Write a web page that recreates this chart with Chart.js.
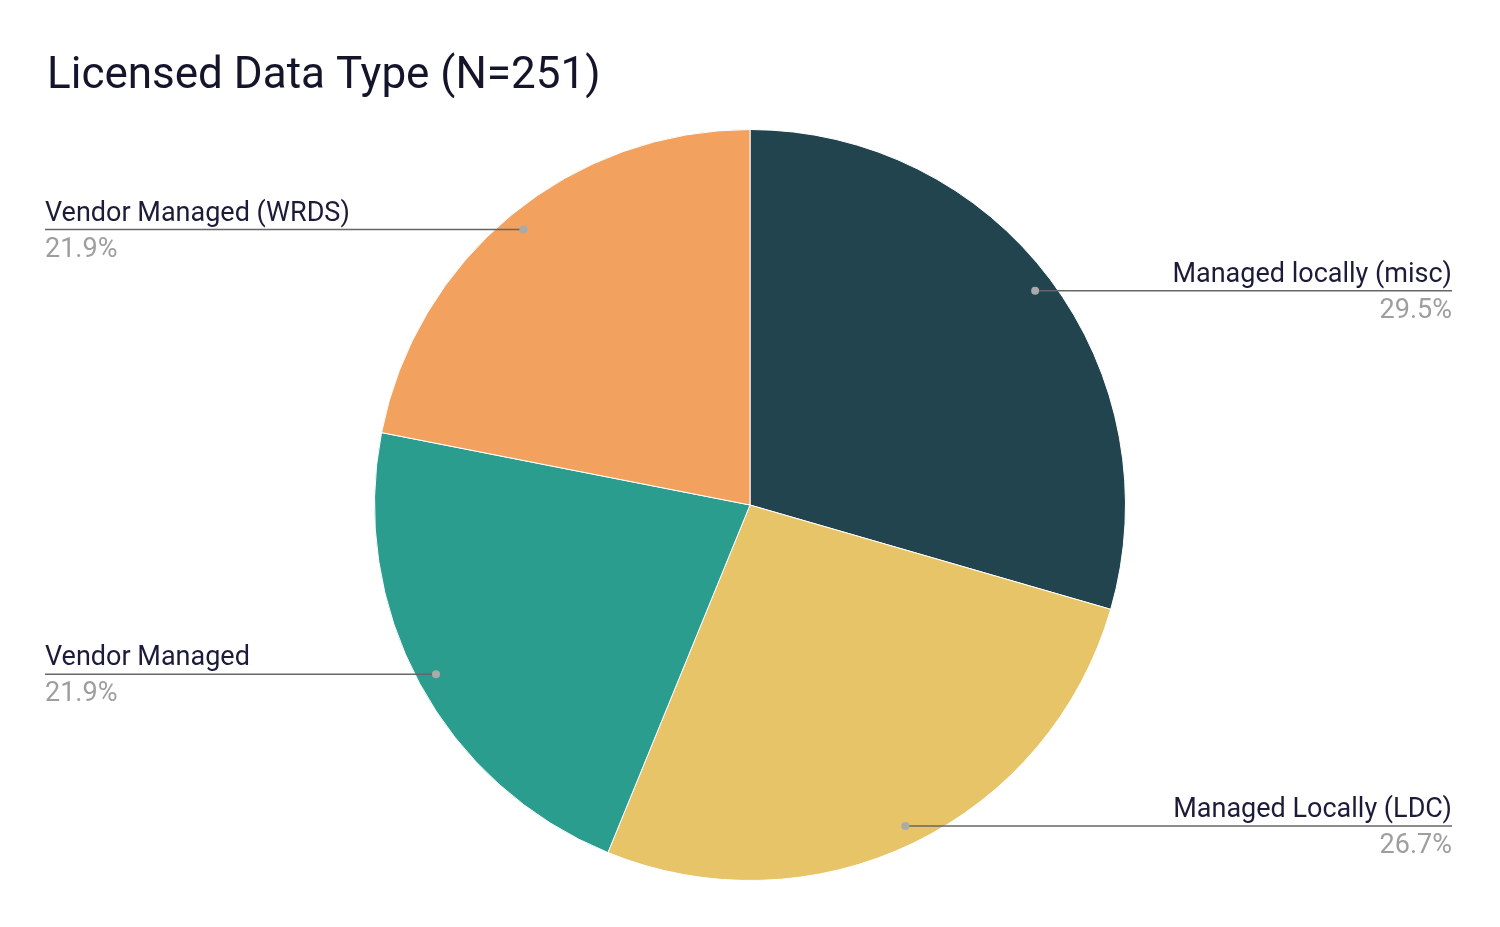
<!DOCTYPE html>
<html>
<head>
<meta charset="utf-8">
<script src="https://cdn.jsdelivr.net/npm/chart.js@4.4.1/dist/chart.umd.min.js"></script>
<style>
  html, body { margin: 0; padding: 0; background: #fff; }
  #wrap { width: 1500px; height: 927px; position: relative; }
</style>
</head>
<body>
<div id="wrap"><canvas id="pieChart" width="1500" height="927"></canvas></div>
<script>
const chartTitle = 'Licensed Data Type (N=251)';
const categories = ['Managed locally (misc)', 'Managed Locally (LDC)', 'Vendor Managed', 'Vendor Managed (WRDS)'];
const counts = [74, 67, 55, 55];
const percentLabels = ['29.5%', '26.7%', '21.9%', '21.9%'];
const sliceColors = ['#22444f', '#e8c468', '#2a9d8f', '#f2a25e'];

// draws title + leader-line labels on top of the pie
const calloutPlugin = {
    id: 'callouts',
    afterDraw(chart) {
        const ctx = chart.ctx;
        ctx.save();
        ctx.fillStyle = '#14142b';
        ctx.font = '44px Roboto, sans-serif';
        ctx.textAlign = 'left';
        ctx.textBaseline = 'alphabetic';
        ctx.fillText(chartTitle, 47, 88);

        const arcs = chart.getDatasetMeta(0).data;
        arcs.forEach((arc, i) => {
            const mid = (arc.startAngle + arc.endAngle) / 2;
            const r = arc.outerRadius * 0.95;
            const dx = arc.x + Math.cos(mid) * r;
            const dy = arc.y + Math.sin(mid) * r;
            const right = Math.cos(mid) >= 0;
            const edge = right ? 1452 : 45;

            ctx.strokeStyle = '#666';
            ctx.lineWidth = 1.5;
            ctx.beginPath();
            ctx.moveTo(dx, dy);
            ctx.lineTo(edge, dy);
            ctx.stroke();

            ctx.fillStyle = '#aaa';
            ctx.beginPath();
            ctx.arc(dx, dy, 4, 0, Math.PI * 2);
            ctx.fill();

            ctx.textAlign = right ? 'right' : 'left';
            ctx.fillStyle = '#1c1c3a';
            ctx.font = '27px Roboto, sans-serif';
            ctx.fillText(categories[i], edge, dy - 9);
            ctx.fillStyle = '#9e9e9e';
            ctx.fillText(percentLabels[i], edge, dy + 27);
        });
        ctx.restore();
    }
};

new Chart(document.getElementById('pieChart').getContext('2d'), {
    type: 'pie',
    data: {
        labels: categories,
        datasets: [{
            data: counts,
            backgroundColor: sliceColors,
            borderColor: '#ffffff',
            borderWidth: 1
        }]
    },
    options: {
        responsive: false,
        animation: false,
        layout: { padding: { top: 129, bottom: 46, left: 0, right: 0 } },
        plugins: {
            legend: { display: false },
            tooltip: { enabled: false }
        }
    },
    plugins: [calloutPlugin]
});
</script>
</body>
</html>
